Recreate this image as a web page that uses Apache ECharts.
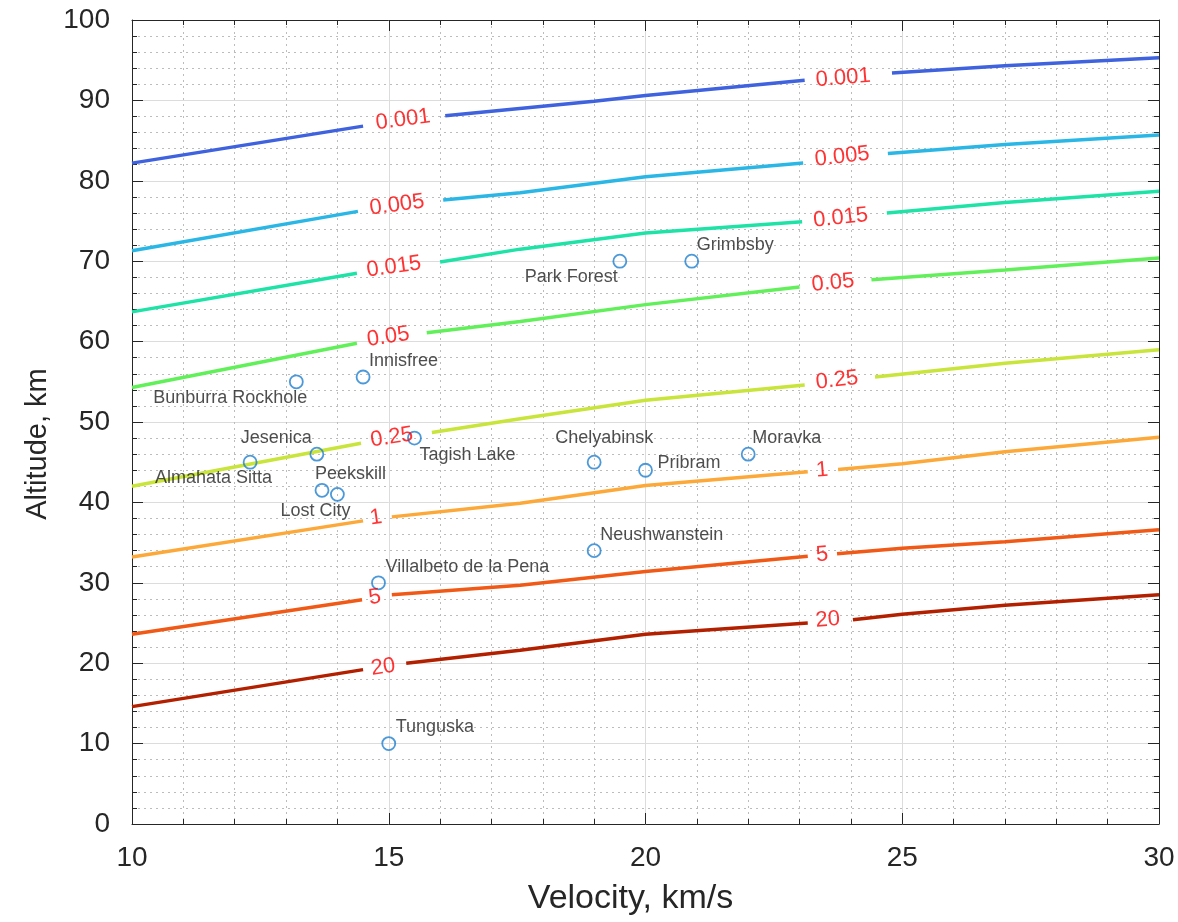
<!DOCTYPE html>
<html>
<head>
<meta charset="utf-8">
<script src="https://cdn.jsdelivr.net/npm/echarts@6/dist/echarts.min.js"></script>
<style>
html,body{margin:0;padding:0;background:#fff;}
#c{width:1178px;height:922px;}
</style>
</head>
<body>
<div id="c"></div>
<script>
// ---------------- DATA ----------------
const xTicks = [10, 15, 20, 25, 30];
const yTicks = [0, 10, 20, 30, 40, 50, 60, 70, 80, 90, 100];

const contourLevels = ['0.001', '0.005', '0.015', '0.05', '0.25', '1', '5', '20'];
// contour lines [velocity, altitude]; null = gap left for the inline label
const c0001 = [[10,82.2],[14.5,86.8],null,[16.1,88.1],[19,89.9],[20,90.6],[23.1,92.5],null,[24.8,93.4],[27,94.3],[30,95.3]];
const c0005 = [[10,71.3],[14.4,76.2],null,[16.06,77.6],[17.56,78.5],[20,80.5],[23.07,82.2],null,[24.72,83.4],[27,84.5],[30,85.7]];
const c0015 = [[10,63.7],[14.38,68.5],null,[16.0,69.9],[17.56,71.5],[20,73.5],[23.05,74.9],null,[24.7,76.0],[27,77.3],[30,78.7]];
const c005  = [[10,54.3],[14.38,59.8],null,[15.74,61.1],[17.56,62.5],[20,64.6],[23.0,66.8],null,[24.4,67.7],[27,68.9],[30,70.4]];
const c025  = [[10,42.0],[14.46,47.35],null,[15.84,48.7],[17.56,50.4],[20,52.7],[23.1,54.6],null,[24.47,55.6],[27,57.3],[30,59.0]];
const c1    = [[10,33.2],[14.5,37.7],null,[15.06,38.2],[17.56,39.9],[20,42.1],[23.16,43.8],null,[23.75,44.1],[25,44.8],[27,46.3],[30,48.1]];
const c5    = [[10,23.6],[14.48,27.9],null,[15.06,28.5],[17.56,29.7],[20,31.4],[23.16,33.3],null,[23.73,33.6],[25,34.3],[27,35.1],[30,36.6]];
const c20   = [[10,14.6],[14.5,19.2],null,[15.34,20.0],[17.56,21.6],[20,23.6],[23.16,25.0],null,[24.04,25.4],[25,26.1],[27,27.2],[30,28.5]];
const contourLines = [c0001, c0005, c0015, c005, c025, c1, c5, c20];
// inline contour label anchors [velocity, altitude]
const contourLabelPos = [
  [[15.28,87.6],[23.85,92.8]],
  [[15.16,77.0],[23.83,83.0]],
  [[15.10,69.3],[23.80,75.4]],
  [[14.99,60.6],[23.65,67.3]],
  [[15.06,48.1],[23.73,55.2]],
  [[14.75,38.1],[23.44,44.0]],
  [[14.73,28.2],[23.44,33.5]],
  [[14.89,19.5],[23.55,25.4]]
];

const meteorNames = ['Park Forest','Grimbsby','Innisfree','Bunburra Rockhole','Jesenica','Almahata Sitta',
  'Peekskill','Lost City','Tagish Lake','Chelyabinsk','Pribram','Moravka','Neushwanstein',
  'Villalbeto de la Pena','Tunguska'];
const meteorVelocity = [19.5, 20.9, 14.5, 13.2, 13.6, 12.3, 13.7, 14.0, 15.5, 19.0, 20.0, 22.0, 19.0, 14.8, 15.0];
const meteorAltitude = [70.0, 70.0, 55.6, 55.0, 46.0, 45.0, 41.5, 41.0, 48.0, 45.0, 44.0, 46.0, 34.0, 30.0, 10.0];

// ---------------- STYLE ----------------
const contourColors = ['#3f62de','#2ab7e6','#1fe3a6','#62f05a','#c9e43a','#fca93a','#f05a16','#b22000'];
// label placement relative to marker: [align, dx, dy]
const labelPlace = [
  ['right',-2,16],['left',5,-16],['left',6,-16],['right',11,16],['right',-5,-16],['right',22,16],
  ['left',-7,-16],['right',13,17],['left',5,17],['left',-39,-24],['left',12,-7],['left',4,-16],
  ['left',6,-16],['left',7,-16],['left',7,-17]
];
const FONT = 'Liberation Sans, Arial, Helvetica, sans-serif';
const AX = '#262626';

function axisCommon() {
  return {
    type: 'value', min: 10, max: 30, interval: 5,
    axisLine: { show: true, onZero: false, lineStyle: { color: AX, width: 1 } },
    axisTick: { show: true, inside: true, length: 11, lineStyle: { color: AX, width: 1 } },
    minorTick: { show: true, splitNumber: 5, length: 5, lineStyle: { color: AX, width: 1 } },
  };
}

const chart = echarts.init(document.getElementById('c'), null, { renderer: 'canvas' });

const xBottom = Object.assign(axisCommon(), {
  position: 'bottom',
  axisLabel: { show: true, fontSize: 28, color: AX, fontFamily: FONT, margin: 20 },
  splitLine: { show: true, lineStyle: { color: '#dcdcdc', width: 1 } },
  minorSplitLine: { show: true, lineStyle: { color: '#bcbcbc', width: 1, type: [2, 4] } },
  name: 'Velocity, km/s', nameLocation: 'middle', nameGap: 58,
  nameTextStyle: { fontSize: 34, color: AX, fontFamily: FONT, padding: [0, 30, 0, 0] }
});
const xTop = Object.assign(axisCommon(), {
  position: 'top', axisLabel: { show: false }, splitLine: { show: false }, minorSplitLine: { show: false }
});
function yAxisDef(pos) {
  const a = axisCommon();
  a.min = 0; a.max = 100; a.interval = 10; a.position = pos;
  if (pos === 'left') {
    a.axisLabel = { show: true, fontSize: 28, color: AX, fontFamily: FONT, margin: 22 };
    a.splitLine = { show: true, lineStyle: { color: '#dcdcdc', width: 1 } };
    a.minorSplitLine = { show: true, lineStyle: { color: '#bcbcbc', width: 1, type: [2, 4] } };
    a.name = 'Altitude, km'; a.nameLocation = 'middle'; a.nameGap = 80;
    a.nameTextStyle = { fontSize: 29, color: AX, fontFamily: FONT, padding: [0, 44, 0, 0] };
  } else {
    a.axisLabel = { show: false }; a.splitLine = { show: false }; a.minorSplitLine = { show: false };
  }
  return a;
}

const lineSeries = contourLines.map((pts, i) => ({
  type: 'line', name: contourLevels[i], xAxisIndex: 0, yAxisIndex: 0,
  data: pts.map((p, k) => p === null ? [(pts[k-1][0] + pts[k+1][0]) / 2, '-'] : p),
  showSymbol: false, symbol: 'none', connectNulls: false, silent: true,
  lineStyle: { color: contourColors[i], width: 3.5 }, z: 3
}));

const meteorSeries = {
  type: 'scatter', xAxisIndex: 0, yAxisIndex: 0, silent: true, z: 5,
  symbol: 'circle', symbolSize: 13,
  itemStyle: { color: 'rgba(255,255,255,0)', borderColor: '#1f7fd0', borderWidth: 1.8 },
  data: meteorNames.map((n, i) => ({
    value: [meteorVelocity[i], meteorAltitude[i]], name: n,
    label: {
      show: true, formatter: n, position: 'inside', align: labelPlace[i][0], verticalAlign: 'middle',
      offset: [labelPlace[i][1], labelPlace[i][2]], fontSize: 18, color: '#222222', fontFamily: FONT
    }
  }))
};

const baseOption = {
  animation: false,
  backgroundColor: '#ffffff',
  grid: { left: 132, right: 19, top: 20, bottom: 98, containLabel: false },
  xAxis: [xBottom, xTop],
  yAxis: [yAxisDef('left'), yAxisDef('right')],
  series: lineSeries.concat([meteorSeries])
};
chart.setOption(baseOption);

// contour labels, rotated along the local line direction (through the library's scales)
const labelData = [];
contourLines.forEach((pts, i) => {
  let g = 0;
  pts.forEach((p, k) => {
    if (p === null) {
      const a = chart.convertToPixel({ gridIndex: 0 }, pts[k-1]);
      const b = chart.convertToPixel({ gridIndex: 0 }, pts[k+1]);
      const ang = -Math.atan2(b[1] - a[1], b[0] - a[0]) * 180 / Math.PI;
      labelData.push({
        value: contourLabelPos[i][g],
        label: { show: true, formatter: contourLevels[i], rotate: ang, position: 'inside',
                 align: 'center', verticalAlign: 'middle', fontSize: 22, color: '#ff0000', fontFamily: FONT }
      });
      g++;
    }
  });
});
chart.setOption({
  series: lineSeries.concat([meteorSeries, {
    type: 'scatter', xAxisIndex: 0, yAxisIndex: 0, silent: true, z: 6,
    symbol: 'circle', symbolSize: 0, itemStyle: { color: 'rgba(0,0,0,0)' },
    data: labelData
  }])
});
</script>
</body>
</html>
